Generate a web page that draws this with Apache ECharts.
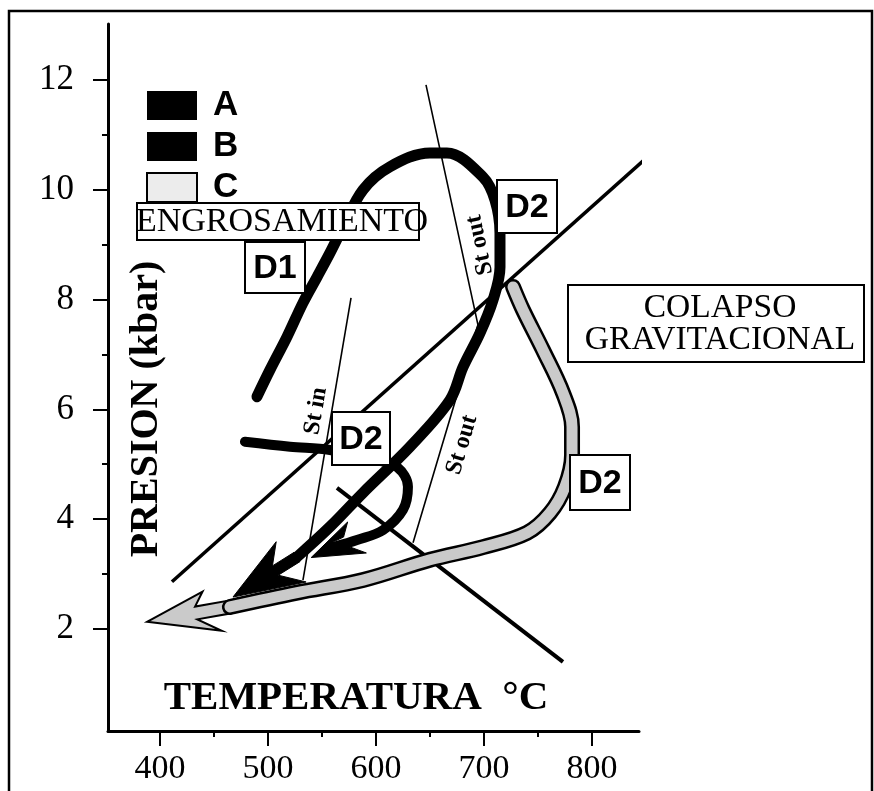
<!DOCTYPE html>
<html>
<head>
<meta charset="utf-8">
<script src="https://cdn.jsdelivr.net/npm/echarts@6/dist/echarts.min.js"></script>
<style>
html, body { margin: 0; padding: 0; background: #fff; }
#chart { width: 874px; height: 791px; }
</style>
</head>
<body>
<div id="chart"></div>
<script>
// P-T trayectorias: [temperatura C, presion kbar]
var pathA = [[489.8, 6.23], [501.9, 6.72], [517.6, 7.32], [532.4, 7.94], [545.4, 8.41], [557.4, 8.85],
    [569.4, 9.32], [588, 10.0], [613, 10.42], [650, 10.67], [665.7, 10.67], [699.1, 10.23],
    [710.2, 9.81], [714.8, 9.21], [714.8, 8.59], [708.3, 7.99], [696.3, 7.39], [680.6, 6.77],
    [668.5, 6.17], [631.5, 5.32], [588, 4.48], [557.4, 3.86], [526.9, 3.31]];
var tipA = [467.6, 2.58];

var pathB = [[478.7, 5.41], [520.4, 5.32], [557.4, 5.26], [599, 5.08], [619.4, 4.95], [629.6, 4.59],
    [625, 4.17], [606.5, 3.80], [582.4, 3.62], [562, 3.50]];
var tipB = [540, 3.3];

var pathC = [[726.9, 8.23], [736.1, 7.81], [754.6, 7.08], [773.1, 6.30], [781.5, 5.68], [781.5, 5.17],
    [775, 4.59], [761, 4.11], [739.8, 3.75], [699.1, 3.49], [650, 3.26], [588, 2.89], [526.9, 2.66],
    [464.8, 2.40]];
var tipC = [388, 2.13];

// curvas de reaccion
var lineMain = [[411.1, 2.86], [858.3, 10.72]];
var lineCross = [[563.9, 4.57], [773.1, 1.40]];
var lineStIn = [[576.9, 8.03], [532.4, 2.89]];
var lineStOut = [[646.3, 11.91], [694.4, 7.54], [634.3, 3.57]];

var xMajor = [400, 500, 600, 700, 800];
var xMinor = [450, 550, 650, 750];
var yMajor = [2, 4, 6, 8, 10, 12];
var yMinor = [3, 5, 7, 9, 11];

var serif = '"Liberation Serif", "Times New Roman", serif';
var sans = '"Liberation Sans", Arial, sans-serif';
var grey = '#cacaca';

var myChart = echarts.init(document.getElementById('chart'));

function xAx(ticks, len, labels) {
    return {
        type: 'value', min: 351.9, max: 843.5, position: 'bottom',
        splitLine: { show: false },
        axisLine: { show: labels, onZero: false, lineStyle: { color: '#000', width: 3 } },
        axisTick: { customValues: ticks, length: len, lineStyle: { color: '#000', width: 2 } },
        axisLabel: { show: labels, customValues: ticks, margin: 21, fontFamily: serif, fontSize: 34, color: '#000' }
    };
}
function yAx(ticks, len, labels) {
    return {
        type: 'value', min: 0.14, max: 13.02, position: 'left',
        splitLine: { show: false },
        axisLine: { show: labels, onZero: false, lineStyle: { color: '#000', width: 3 } },
        axisTick: { customValues: ticks, length: len, lineStyle: { color: '#000', width: 2 } },
        axisLabel: { show: labels, customValues: ticks, margin: 34, fontFamily: serif, fontSize: 35, color: '#000' }
    };
}
function straight(name, data, width) {
    return {
        name: name, type: 'line', data: data, symbol: 'none', silent: true, clip: false,
        lineStyle: { color: '#000', width: width }, z: 3
    };
}
function pathSeries(name, data, color, width, z) {
    return {
        name: name, type: 'line', data: data, symbol: 'none', smooth: 0.35, silent: true, clip: false,
        lineStyle: { color: color, width: width, cap: 'round', join: 'round' },
        itemStyle: { color: color }, z: z
    };
}
// punta de flecha: geom en coordenadas locales (distancia hacia atras desde la punta, desplazamiento lateral)
function arrowSeries(name, path, tip, geom, shaft, style, z) {
    var prev = path[path.length - 1];
    return {
        name: name, type: 'custom', silent: true, clip: false, z: z,
        data: [[tip[0], tip[1], prev[0], prev[1]]],
        renderItem: function (params, api) {
            var t = api.coord([api.value(0), api.value(1)]);
            var p = api.coord([api.value(2), api.value(3)]);
            var dx = p[0] - t[0], dy = p[1] - t[1];
            var d = Math.sqrt(dx * dx + dy * dy);
            var ux = dx / d, uy = dy / d, nx = -uy, ny = ux;
            var local = geom.slice(0, 2).concat([[geom[2][0], shaft], [d, shaft], [d, -shaft], [geom[2][0], -shaft]], geom.slice(3));
            var pts = local.map(function (g) {
                return [t[0] + ux * g[0] + nx * g[1], t[1] + uy * g[0] + ny * g[1]];
            });
            return { type: 'polygon', shape: { points: pts }, style: style };
        }
    };
}
function box(x, y, w, h, text, font, dx, lh) {
    return [{
        type: 'rect', z: 100, shape: { x: x, y: y, width: w, height: h },
        style: { fill: '#fff', stroke: '#000', lineWidth: 2 }
    }, {
        type: 'text', z: 101, x: x + w / 2 + (dx || 0), y: y + h / 2 + 1,
        style: { text: text, font: font, fill: '#000', align: 'center', verticalAlign: 'middle', lineHeight: lh }
    }];
}
function label(x, y, text, font, rot) {
    return {
        type: 'text', z: 101, x: x, y: y, rotation: rot || 0,
        style: { text: text, font: font, fill: '#000', align: 'center', verticalAlign: 'middle' }
    };
}

var graphics = [{
    type: 'rect', z: 0, silent: true, shape: { x: 9, y: 11, width: 863, height: 800 },
    style: { fill: 'none', stroke: '#000', lineWidth: 2.5 }
}];
graphics = graphics.concat(
    box(137, 203, 282, 37, 'ENGROSAMIENTO', '34px ' + serif, 4),
    box(245, 242, 60, 51, 'D1', 'bold 34px ' + sans),
    box(497, 180, 60, 53, 'D2', 'bold 34px ' + sans),
    box(332, 412, 58, 53, 'D2', 'bold 34px ' + sans),
    box(570, 455, 60, 55, 'D2', 'bold 34px ' + sans),
    box(568, 285, 296, 77, 'COLAPSO\nGRAVITACIONAL', '33.5px ' + serif, 4, 32)
);
graphics.push(
    label(147, 409, 'PRESION (kbar)', 'bold 40px ' + serif, Math.PI / 2),
    label(356, 698, 'TEMPERATURA  \u00B0C', 'bold 41px ' + serif, 0),
    label(316, 411, 'St in', 'bold 24px ' + serif, 1.40),
    label(462, 445, 'St out', 'bold 24px ' + serif, 1.28),
    label(480, 245, 'St out', 'bold 24px ' + serif, 1.78)
);

var option = {
    animation: false,
    grid: { left: 108, right: 235, top: 24, bottom: 60, containLabel: false },
    xAxis: [xAx(xMajor, 15, true), xAx(xMinor, 6, false)],
    yAxis: [yAx(yMajor, 15, true), yAx(yMinor, 6, false)],
    legend: {
        orient: 'vertical', left: 141, top: 83, icon: 'rect',
        itemWidth: 50, itemHeight: 29, itemGap: 6, selectedMode: false,
        textStyle: { fontFamily: sans, fontWeight: 'bold', fontSize: 35, color: '#000', padding: [0, 0, 0, 11] },
        data: [
            { name: 'A', itemStyle: { color: '#000', borderWidth: 0 } },
            { name: 'B', itemStyle: { color: '#000', borderWidth: 0 } },
            { name: 'C', itemStyle: { color: '#ececec', borderColor: '#000', borderWidth: 2 } }
        ]
    },
    graphic: { elements: graphics },
    series: [
        straight('r1', lineMain, 3.5),
        straight('r2', lineCross, 4),
        straight('stin', lineStIn, 1.6),
        straight('stout', lineStOut, 1.6),
        pathSeries('A', pathA, '#000', 11, 5),
        arrowSeries('fA', pathA, tipA, [[0, 0], [70, 26], [50, 0], [66, -24]], 5.5,
            { fill: '#000', stroke: '#000', lineWidth: 1 }, 5),
        pathSeries('B', pathB, '#000', 10, 5),
        arrowSeries('fB', pathB, tipB, [[0, 0], [52, 19], [38, 0], [48, -17]], 5,
            { fill: '#000', stroke: '#000', lineWidth: 1 }, 5),
        pathSeries('C', pathC, '#000', 16, 6),
        arrowSeries('fC', pathC, tipC, [[0, 0], [72, 22], [50, 0], [60, -20]], 6.5,
            { fill: grey, stroke: '#000', lineWidth: 2 }, 6),
        pathSeries('C', pathC, grey, 11, 7)
    ]
};
myChart.setOption(option);
</script>
</body>
</html>
